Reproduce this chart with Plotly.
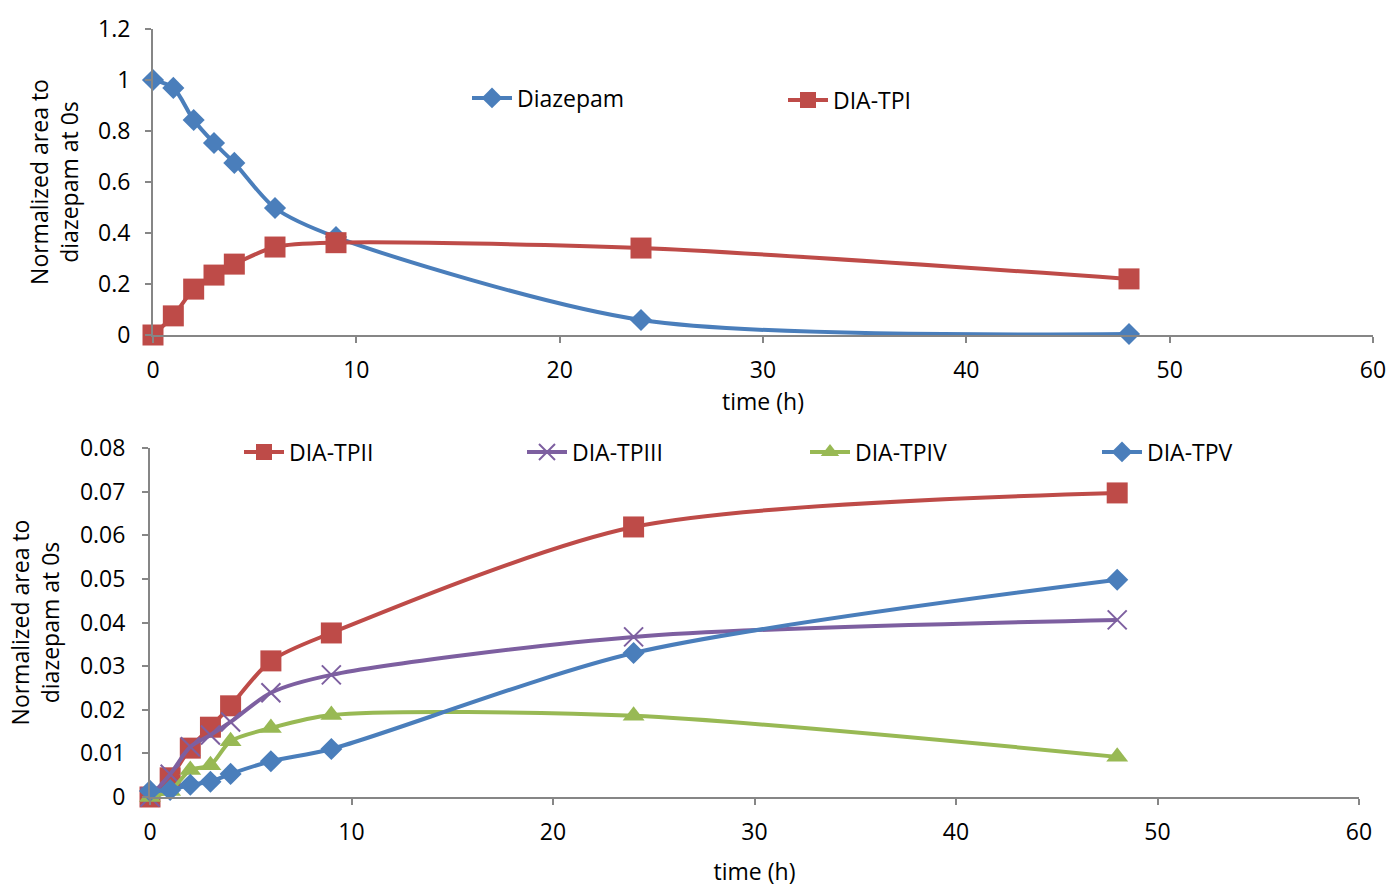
import plotly.graph_objects as go

time_h = [0, 1, 2, 3, 4, 6, 9, 24, 48]

diazepam = [1.0, 0.969, 0.843, 0.753, 0.675, 0.498, 0.384, 0.059, 0.004]
dia_tpi = [0.0, 0.075, 0.18, 0.235, 0.278, 0.345, 0.362, 0.341, 0.22]

dia_tpii = [0.0, 0.0044, 0.0112, 0.016, 0.0209, 0.0312, 0.0376, 0.0619, 0.0697]
dia_tpiii = [0.0, 0.0052, 0.0115, 0.0142, 0.0172, 0.0239, 0.028, 0.0367, 0.0406]
dia_tpiv = [0.0, 0.0014, 0.0062, 0.0073, 0.0128, 0.0158, 0.0188, 0.0186, 0.0092]
dia_tpv = [0.0014, 0.0016, 0.0028, 0.0035, 0.0053, 0.0082, 0.011, 0.033, 0.0498]

BLUE = "#4A7EBB"
RED = "#BE4B48"
PURPLE = "#7D5FA0"
GREEN = "#98B954"
AXIS = "#868686"
FONT = "Open Sans, Liberation Sans, sans-serif"
FS = 23

W, H = 1391, 889
OFF = 0  # body margin removed by post_script


def px_x(v):
    return (v - OFF) / W


def px_y(v):
    return 1 - (v - OFF) / H


fig = go.Figure()

legend_pos = {}


def add(y, name, color, symbol, size, xa, ya, legend, tx, ty):
    fig.add_trace(go.Scatter(
        x=time_h, y=y, name=name, mode="lines+markers",
        line=dict(color=color, width=4, shape="spline", smoothing=0.8),
        marker=dict(symbol=symbol, size=size, color=color,
                    line=dict(width=2 if symbol == "x-thin" else 0, color=color)),
        xaxis=xa, yaxis=ya, legend=legend, cliponaxis=False,
    ))
    legend_pos[legend] = (tx, ty)


add(diazepam, "Diazepam", BLUE, "diamond", 17, "x", "y", "legend", 517, 98)
add(dia_tpi, "DIA-TPI", RED, "square", 21, "x", "y", "legend2", 833, 100)
add(dia_tpii, "DIA-TPII", RED, "square", 21, "x2", "y2", "legend3", 289, 452)
add(dia_tpiii, "DIA-TPIII", PURPLE, "x-thin", 19, "x2", "y2", "legend4", 572, 452)
add(dia_tpiv, "DIA-TPIV", GREEN, "triangle-up", 19, "x2", "y2", "legend5", 855, 452)
add(dia_tpv, "DIA-TPV", BLUE, "diamond", 17, "x2", "y2", "legend6", 1147, 452)

axis_common = dict(showline=True, linecolor=AXIS, linewidth=2, ticks="outside",
                   tickcolor=AXIS, ticklen=6, tickwidth=2, showgrid=False,
                   zeroline=False, automargin=False,
                   tickfont=dict(size=FS, color="#000000", family=FONT))

layout = dict(
    width=W, height=H,
    margin=dict(l=0, r=0, t=0, b=0, autoexpand=False),
    paper_bgcolor="white", plot_bgcolor="white",
    font=dict(family=FONT, size=FS, color="#000000"),
    xaxis=dict(domain=[px_x(153), px_x(1373)], range=[0, 60], dtick=10, anchor="y",
               ticklabelstandoff=7,
               title=dict(text="time (h)", font=dict(size=FS), standoff=7), **axis_common),
    yaxis=dict(domain=[px_y(335), px_y(29)], range=[0, 1.2], dtick=0.2, anchor="x",
               ticklabelstandoff=10,
               title=dict(text="Normalized area to<br>diazepam at 0s", font=dict(size=FS), standoff=13),
               **axis_common),
    xaxis2=dict(domain=[px_x(150), px_x(1359)], range=[0, 60], dtick=10, anchor="y2",
                ticklabelstandoff=7,
                title=dict(text="time (h)", font=dict(size=FS), standoff=18), **axis_common),
    yaxis2=dict(domain=[px_y(797), px_y(448)], range=[0, 0.08], dtick=0.01, anchor="x2",
                ticklabelstandoff=12,
                title=dict(text="Normalized area to<br>diazepam at 0s", font=dict(size=FS), standoff=14),
                **axis_common),
    showlegend=True,
)

for lg, (tx, ty) in legend_pos.items():
    layout[lg] = dict(orientation="h", x=px_x(tx - 50), y=px_y(ty),
                      xanchor="left", yanchor="middle", bgcolor="rgba(0,0,0,0)",
                      font=dict(size=FS, family=FONT), itemwidth=40)

fig.update_layout(**layout)

fig.write_html("out.html", config={"displayModeBar": False},
               post_script="document.body.style.margin='0';document.body.style.overflow='hidden';")
